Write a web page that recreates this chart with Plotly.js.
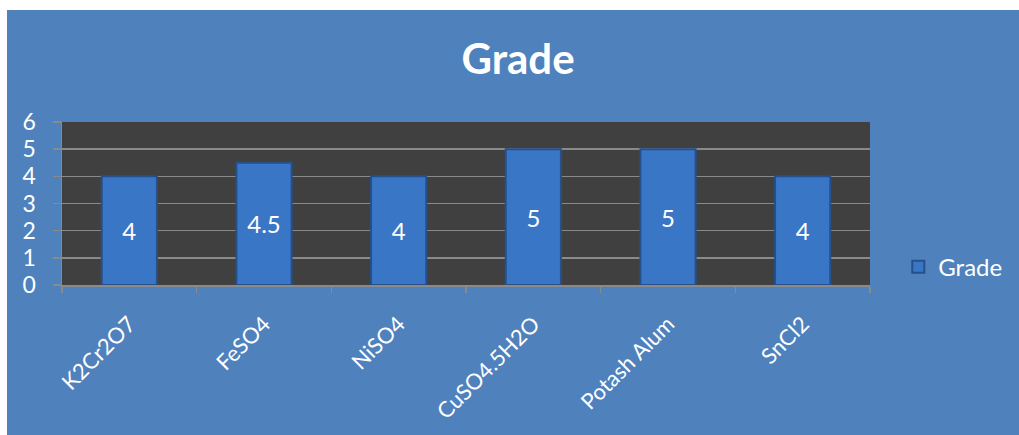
<!DOCTYPE html>
<html>
<head>
<meta charset="utf-8">
<script src="https://cdn.plot.ly/plotly-3.0.1.min.js"></script>
<style>
  html, body { margin: 0; padding: 0; background: #ffffff; }
  #chart { position: absolute; left: 7px; top: 10px; width: 1012px; height: 425px; }
</style>
</head>
<body>
<div id="chart"></div>
<script>
const categories = ["K2Cr2O7", "FeSO4", "NiSO4", "CuSO4.5H2O", "Potash Alum", "SnCl2"];
const grades = [4, 4.5, 4, 5, 5, 4];
const seriesName = "Grade";
const titleText = "Grade";
const yTickValues = [0, 1, 2, 3, 4, 5, 6];

const FONT = "Lato, 'Open Sans', sans-serif";

const trace = {
  type: "bar",
  name: seriesName,
  x: categories,
  y: grades,
  text: grades.map(String),
  textposition: "inside",
  insidetextanchor: "middle",
  textangle: 0,
  textfont: { family: FONT, size: 24, color: "#ffffff" },
  marker: { color: "#3a76c6", line: { color: "#25508c", width: 2 } },
  hoverinfo: "x+y",
  showlegend: true
};

const layout = {
  width: 1012,
  height: 425,
  paper_bgcolor: "#4f81bd",
  plot_bgcolor: "#404040",
  margin: { l: 55, r: 143, t: 112, b: 150, pad: 0 },
  font: { family: FONT, color: "#ffffff" },
  title: {
    text: "<b>" + titleText + "</b>",
    font: { family: FONT, size: 42, color: "#ffffff" },
    x: 0.505, xref: "container", xanchor: "center",
    y: 0.885, yref: "container", yanchor: "middle"
  },
  bargap: 0.59,
  xaxis: {
    type: "category",
    tickangle: -45,
    tickfont: { family: FONT, size: 22, color: "#ffffff" },
    ticks: "outside",
    tickson: "boundaries",
    ticklen: 6,
    tickcolor: "#8a8a8a",
    tickwidth: 1.5,
    showline: true,
    linecolor: "#8a8a8a",
    linewidth: 1.5,
    showgrid: false,
    ticklabelstandoff: 16,
    automargin: false,
    fixedrange: true
  },
  yaxis: {
    range: [0, 6],
    tickvals: yTickValues,
    ticktext: yTickValues.map(String),
    tickfont: { family: FONT, size: 23, color: "#ffffff" },
    ticks: "outside",
    ticklen: 8,
    tickcolor: "#8a8a8a",
    tickwidth: 1.5,
    showgrid: true,
    gridcolor: "#8a8a8a",
    gridwidth: 1.5,
    showline: true,
    linecolor: "#8a8a8a",
    linewidth: 1.5,
    zeroline: false,
    ticklabelstandoff: 12,
    fixedrange: true
  },
  legend: {
    x: 1.035, xanchor: "left",
    y: 0.11, yanchor: "middle",
    font: { family: FONT, size: 24, color: "#ffffff" },
    bgcolor: "rgba(0,0,0,0)"
  },
  showlegend: true
};

Plotly.newPlot("chart", [trace], layout, { displayModeBar: false, staticPlot: true });
</script>
</body>
</html>
